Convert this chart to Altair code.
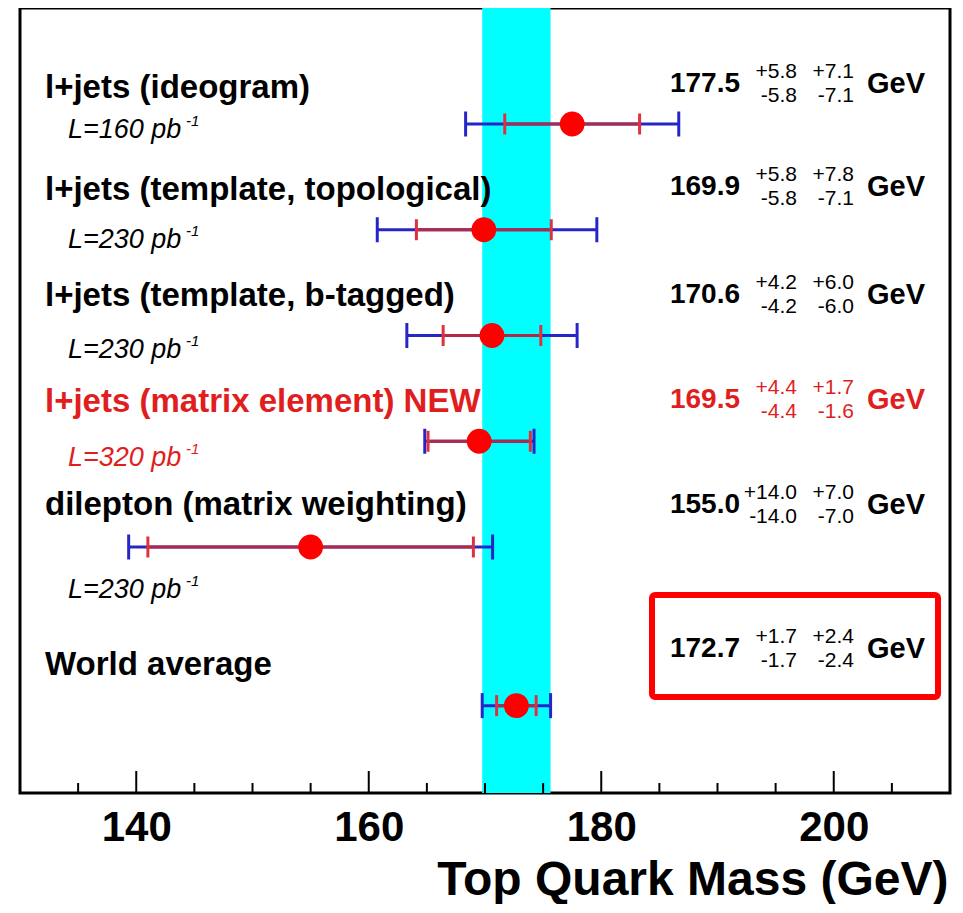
import math
import altair as alt
import pandas as pd

# ---------------- data ----------------
labels = [
    "l+jets (ideogram)",
    "l+jets (template, topological)",
    "l+jets (template, b-tagged)",
    "l+jets (matrix element) NEW",
    "dilepton (matrix weighting)",
    "World average",
]
lumis = ["L=160 pb", "L=230 pb", "L=230 pb", "L=320 pb", "L=230 pb", ""]
lumi_unit_power = "-1"
mass = [177.5, 169.9, 170.6, 169.5, 155.0, 172.7]
stat_up = [5.8, 5.8, 4.2, 4.4, 14.0, 1.7]
stat_dn = [5.8, 5.8, 4.2, 4.4, 14.0, 1.7]
syst_up = [7.1, 7.8, 6.0, 1.7, 7.0, 2.4]
syst_dn = [7.1, 7.1, 6.0, 1.6, 7.0, 2.4]
highlight = [False, False, False, True, False, False]
major_ticks = [140, 160, 180, 200]
minor_ticks = [135, 145, 150, 155, 165, 170, 175, 185, 190, 195, 205]

# ---------------- layout ----------------
FONT = "Liberation Sans"
W, H = 930, 785
ROW_PX = 105.75          # pixels per row unit
ROW1_Y = 116             # pixel position of the first row in the plot
row_pos = [1, 2, 3, 4, 5, 6.5]
label_dy = [-36, -40, -40, -39, -42, -41]
lumi_dy = [6, 10, 14, 17, 43, 0]
value_dy = [-40, -43, -41, -41, -42, -57]
SUP_DY = 12


def px(v):
    return v / ROW_PX


y_lo = 1 - ROW1_Y / ROW_PX
y_hi = 1 + (H - ROW1_Y) / ROW_PX
yscale = alt.Scale(domain=[y_lo, y_hi], reverse=True, nice=False, zero=False)
xscale = alt.Scale(domain=[130, 210], nice=False, zero=False)

xaxis = alt.Axis(
    values=major_ticks, format="d", ticks=False, tickSize=0, domain=False, grid=False,
    labelFont=FONT, labelFontWeight="bold", labelFontSize=42, labelColor="black",
    labelBaseline="alphabetic", labelPadding=47, labelFlush=False, labelOverlap=False,
    title="Top Quark Mass (GeV)", titleFont=FONT, titleFontSize=48, titleFontWeight="bold",
    titleColor="black", titleAnchor="end", titleAlign="right", titleBaseline="alphabetic",
    titleX=928, titleY=101,
)


def X(field):
    return alt.X(field, type="quantitative", scale=xscale, axis=xaxis)


def X2(field):
    return alt.X2(field)


def Y(field):
    return alt.Y(field, type="quantitative", scale=yscale, axis=None)


BLUE = "#2626c8"
RED_CAP = "#e0303f"
RED_LINE = "#b02a48"

tot_up = [math.hypot(a, b) for a, b in zip(stat_up, syst_up)]
tot_dn = [math.hypot(a, b) for a, b in zip(stat_dn, syst_dn)]

df = pd.DataFrame({
    "label": labels,
    "mass": mass,
    "row": row_pos,
    "lo_stat": [m - s for m, s in zip(mass, stat_dn)],
    "hi_stat": [m + s for m, s in zip(mass, stat_up)],
    "lo_tot": [m - s for m, s in zip(mass, tot_dn)],
    "hi_tot": [m + s for m, s in zip(mass, tot_up)],
})

caps_rows = []
for i in range(len(mass)):
    r = row_pos[i]
    for xv in (df.lo_tot[i], df.hi_tot[i]):
        caps_rows.append({"x": xv, "y1": r - px(12.5), "y2": r + px(12.5), "c": BLUE, "o": 0})
    for xv in (df.lo_stat[i], df.hi_stat[i]):
        caps_rows.append({"x": xv, "y1": r - px(10.5), "y2": r + px(10.5), "c": RED_CAP, "o": 1})
caps = pd.DataFrame(caps_rows)

# world-average band
wa = len(mass) - 1
band = pd.DataFrame({"lo": [mass[wa] - tot_dn[wa]], "hi": [mass[wa] + tot_up[wa]]})

ticks = pd.DataFrame(
    [{"v": v, "y1": y_hi - px(22), "y2": y_hi} for v in major_ticks]
    + [{"v": v, "y1": y_hi - px(10), "y2": y_hi} for v in minor_ticks]
)

txt_color = ["#e01e1e" if h else "#000000" for h in highlight]
tdf = pd.DataFrame({
    "label": labels,
    "lumi": lumis,
    "pw": [lumi_unit_power if l else "" for l in lumis],
    "color": txt_color,
    "y_label": [r + px(d) for r, d in zip(row_pos, label_dy)],
    "y_lumi": [r + px(d) for r, d in zip(row_pos, lumi_dy)],
    "y_val": [r + px(d) for r, d in zip(row_pos, value_dy)],
    "val": [f"{m:.1f}" for m in mass],
    "s1u": [f"+{v:.1f}" for v in stat_up],
    "s1d": [f"-{v:.1f}" for v in stat_dn],
    "s2u": [f"+{v:.1f}" for v in syst_up],
    "s2d": [f"-{v:.1f}" for v in syst_dn],
    "gev": ["GeV"] * len(mass),
})
tdf["y_up"] = tdf["y_val"] - px(SUP_DY)
tdf["y_dn"] = tdf["y_val"] + px(SUP_DY)
tdf["y_pw"] = tdf["y_lumi"] - px(9)
lumi_df = tdf[tdf["lumi"] != ""]

# ---------------- layers ----------------
band_layer = alt.Chart(band).mark_rect(color="#00ffff").encode(
    x=X("lo"), x2=X2("hi"), y=alt.value(0), y2=alt.value(H)
)

tick_layer = alt.Chart(ticks).mark_rule(color="black", strokeWidth=2).encode(
    x=X("v"), y=Y("y1"), y2=alt.Y2("y2")
)

blue_line = alt.Chart(df).mark_rule(color=BLUE, strokeWidth=3).encode(
    x=X("lo_tot"), x2=X2("hi_tot"), y=Y("row")
)
red_line = alt.Chart(df).mark_rule(color=RED_LINE, strokeWidth=3).encode(
    x=X("lo_stat"), x2=X2("hi_stat"), y=Y("row")
)
cap_layer = alt.Chart(caps).mark_rule(strokeWidth=3).encode(
    x=X("x"), y=Y("y1"), y2=alt.Y2("y2"),
    color=alt.Color("c:N", scale=None), order=alt.Order("o:Q"),
)
points = alt.Chart(df).mark_circle(size=616, color="#ff0000", opacity=1).encode(
    x=X("mass"), y=Y("row")
)


def text_layer(data, field, yfield, xpx, align, size, weight="normal", style="normal"):
    return alt.Chart(data).mark_text(
        font=FONT, fontSize=size, fontWeight=weight, fontStyle=style,
        align=align, baseline="middle",
    ).encode(
        x=alt.value(xpx), y=Y(yfield), text=alt.Text(f"{field}:N"),
        color=alt.Color("color:N", scale=None),
    )


t_label = text_layer(tdf, "label", "y_label", 25, "left", 33, "bold")
t_lumi = text_layer(lumi_df, "lumi", "y_lumi", 48, "left", 27, "normal", "italic")
t_pw = text_layer(lumi_df, "pw", "y_pw", 166, "left", 15, "normal", "italic")
t_val = text_layer(tdf, "val", "y_val", 720, "right", 28, "bold")
t_s1u = text_layer(tdf, "s1u", "y_up", 777, "right", 21)
t_s1d = text_layer(tdf, "s1d", "y_dn", 777, "right", 21)
t_s2u = text_layer(tdf, "s2u", "y_up", 834, "right", 21)
t_s2d = text_layer(tdf, "s2d", "y_dn", 834, "right", 21)
t_gev = text_layer(tdf, "gev", "y_val", 847, "left", 29, "bold")

box = alt.Chart(alt.Data(values=[{"a": 1}])).mark_rect(
    fillOpacity=0, stroke="#ff0000", strokeWidth=6, cornerRadius=3
).encode(x=alt.value(632), x2=alt.value(918), y=alt.value(587), y2=alt.value(689))

chart = alt.layer(
    band_layer, tick_layer, blue_line, red_line, cap_layer, points,
    t_label, t_lumi, t_pw, t_val, t_s1u, t_s1d, t_s2u, t_s2d, t_gev, box,
).properties(
    width=W, height=H, background="white",
    padding={"left": 12, "top": 0, "right": 5, "bottom": 111},
    autosize=alt.AutoSizeParams(type="none"),
).configure_view(
    stroke="black", strokeWidth=3
)

chart.save("out.html", embed_options={"renderer": "svg", "actions": False})
